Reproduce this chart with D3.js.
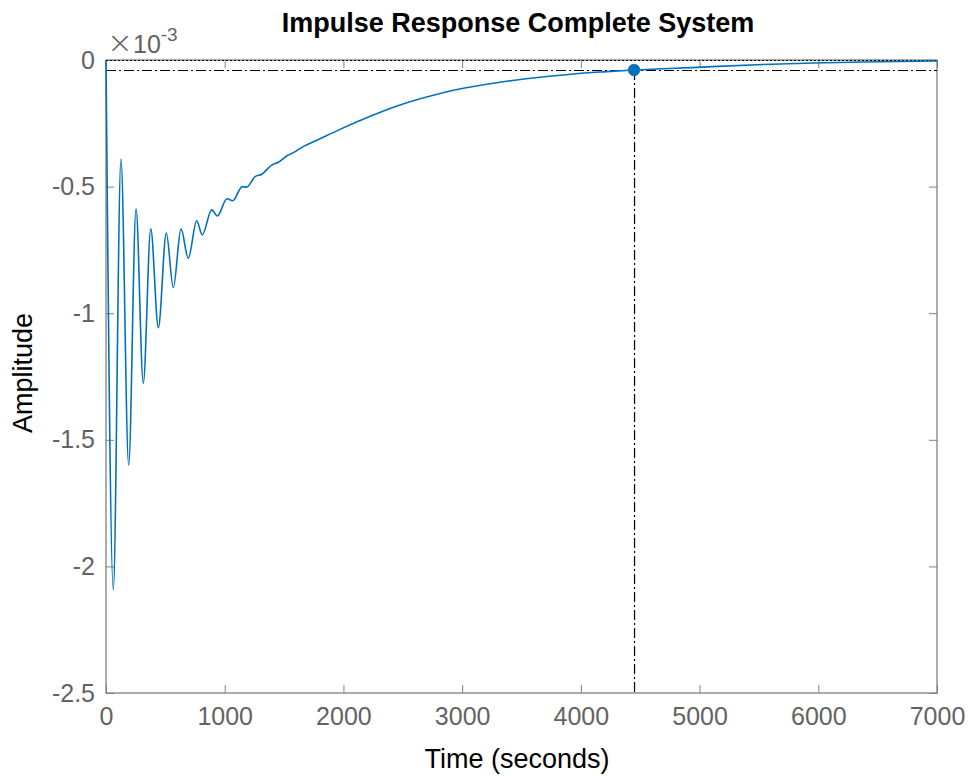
<!DOCTYPE html>
<html>
<head>
<meta charset="utf-8">
<script src="https://cdn.jsdelivr.net/npm/d3@7"></script>
<style>
  html, body { margin: 0; padding: 0; background: #fff; }
  svg { display: block; font-family: "Liberation Sans", Arial, Helvetica, sans-serif; }
</style>
</head>
<body>
<svg id="chart" width="968" height="776"></svg>
<script>
// Impulse response samples (time in seconds, amplitude in units of 1e-3)
const timeSec = [0, 61.5, 126, 191, 253, 314, 377, 441, 508, 567, 632, 693, 764, 811, 890, 938, 1019,
  1067, 1148, 1185, 1255, 1312, 1396, 1451, 1522, 1578, 1649, 1803, 1971, 2125, 2252, 2533, 2814,
  3094, 3375, 3656, 3937, 4218, 4448, 4976, 5537, 5958, 6379, 7000];
const amplitude = [0, -2.093, -0.391, -1.600, -0.588, -1.277, -0.667, -1.057, -0.683, -0.899, -0.667,
  -0.783, -0.635, -0.691, -0.592, -0.616, -0.548, -0.556, -0.500, -0.502, -0.461, -0.451, -0.415,
  -0.404, -0.379, -0.366, -0.345, -0.311, -0.274, -0.242, -0.217, -0.169, -0.132, -0.105, -0.084,
  -0.068, -0.055, -0.046, -0.0395, -0.029, -0.0178, -0.0118, -0.0079, -0.0039];

// Settling point annotation
const settlingTime = 4448;
const settlingAmp = -0.0395;

// Axis ticks
const xTicks = [0, 1000, 2000, 3000, 4000, 5000, 6000, 7000];
const yTicks = [0, -0.5, -1, -1.5, -2, -2.5];
const yTickLabels = ["0", "-0.5", "-1", "-1.5", "-2", "-2.5"];

const titleText = "Impulse Response Complete System";
const xLabel = "Time (seconds)";
const yLabel = "Amplitude";

const svg = d3.select("#chart");
const plotL = 106, plotR = 937, plotT = 60, plotB = 693;
const x = d3.scaleLinear().domain([0, 7000]).range([plotL, plotR]);
const y = d3.scaleLinear().domain([-2.5, 0]).range([plotB, plotT]);

const axisColor = "#808080";
const labelColor = "#636363";
const lineBlue = "#0072BD";

// Axes box
svg.append("rect")
  .attr("x", plotL).attr("y", plotT)
  .attr("width", plotR - plotL).attr("height", plotB - plotT)
  .attr("fill", "none").attr("stroke", axisColor).attr("stroke-width", 1.3);

// Bottom axis (ticks inward) and mirrored top ticks
const xAxisB = d3.axisBottom(x).tickValues(xTicks).tickSize(-8).tickPadding(14)
  .tickFormat(d3.format("d"));
const gxb = svg.append("g").attr("transform", `translate(0,${plotB})`).call(xAxisB);
gxb.select(".domain").remove();
gxb.selectAll(".tick line").attr("stroke", axisColor);
gxb.selectAll(".tick text").attr("fill", labelColor).attr("font-size", 25)
  .attr("font-family", "Liberation Sans, Arial, sans-serif");

const gxt = svg.append("g").attr("transform", `translate(0,${plotT})`)
  .call(d3.axisTop(x).tickValues(xTicks).tickSize(-8).tickFormat(""));
gxt.select(".domain").remove();
gxt.selectAll(".tick line").attr("stroke", axisColor);

// Left axis and mirrored right ticks
const gyl = svg.append("g").attr("transform", `translate(${plotL},0)`)
  .call(d3.axisLeft(y).tickValues(yTicks).tickSize(-8).tickPadding(11)
    .tickFormat((d, i) => yTickLabels[i]));
gyl.select(".domain").remove();
gyl.selectAll(".tick line").attr("stroke", axisColor);
gyl.selectAll(".tick text").attr("fill", labelColor).attr("font-size", 25)
  .attr("font-family", "Liberation Sans, Arial, sans-serif");

const gyr = svg.append("g").attr("transform", `translate(${plotR},0)`)
  .call(d3.axisRight(y).tickValues(yTicks).tickSize(-8).tickFormat(""));
gyr.select(".domain").remove();
gyr.selectAll(".tick line").attr("stroke", axisColor);

// Exponent label
const expo = svg.append("text").attr("x", plotL + 1).attr("y", 53)
  .attr("fill", labelColor).attr("font-size", 25);
expo.append("tspan").attr("font-size", 31).attr("font-family", "DejaVu Sans, sans-serif")
  .attr("font-weight", 200).text("\u00D7");
expo.append("tspan").text("10");
expo.append("tspan").attr("dy", -12).attr("font-size", 19).text("-3");

// Zero reference line (dotted)
svg.append("line")
  .attr("x1", plotL).attr("x2", plotR).attr("y1", y(0) + 0.5).attr("y2", y(0) + 0.5)
  .attr("stroke", "#000").attr("stroke-width", 1).attr("stroke-dasharray", "2,2");

// Settling annotation lines
svg.append("line")
  .attr("x1", plotL).attr("x2", plotR)
  .attr("y1", y(settlingAmp) + 0.5).attr("y2", y(settlingAmp) + 0.5)
  .attr("stroke", "#000").attr("stroke-width", 1.2).attr("stroke-dasharray", "10,3,2,3");
svg.append("line")
  .attr("x1", x(settlingTime) + 0.5).attr("x2", x(settlingTime) + 0.5)
  .attr("y1", y(settlingAmp)).attr("y2", plotB)
  .attr("stroke", "#000").attr("stroke-width", 1.2).attr("stroke-dasharray", "10,3,2,3");

// Response curve
const pts = timeSec.map((t, i) => [t, amplitude[i]]);
const line = d3.line().x(d => x(d[0])).y(d => y(d[1])).curve(d3.curveMonotoneX);
svg.append("path").datum(pts)
  .attr("d", line)
  .attr("fill", "none").attr("stroke", lineBlue).attr("stroke-width", 1.6)
  .attr("stroke-linejoin", "round");

// Settling marker
svg.append("circle")
  .attr("cx", x(settlingTime)).attr("cy", y(settlingAmp)).attr("r", 5.8)
  .attr("fill", lineBlue).attr("stroke", "#1f78c1").attr("stroke-width", 1);

// Title and axis labels
svg.append("text").attr("x", 518).attr("y", 32).attr("text-anchor", "middle")
  .attr("font-weight", "bold").attr("font-size", 27).attr("fill", "#000").text(titleText);
svg.append("text").attr("x", 517).attr("y", 768).attr("text-anchor", "middle")
  .attr("font-size", 27).attr("fill", "#000").text(xLabel);
svg.append("text").attr("transform", "translate(32,373) rotate(-90)")
  .attr("text-anchor", "middle").attr("font-size", 27).attr("fill", "#000").text(yLabel);
</script>
</body>
</html>
